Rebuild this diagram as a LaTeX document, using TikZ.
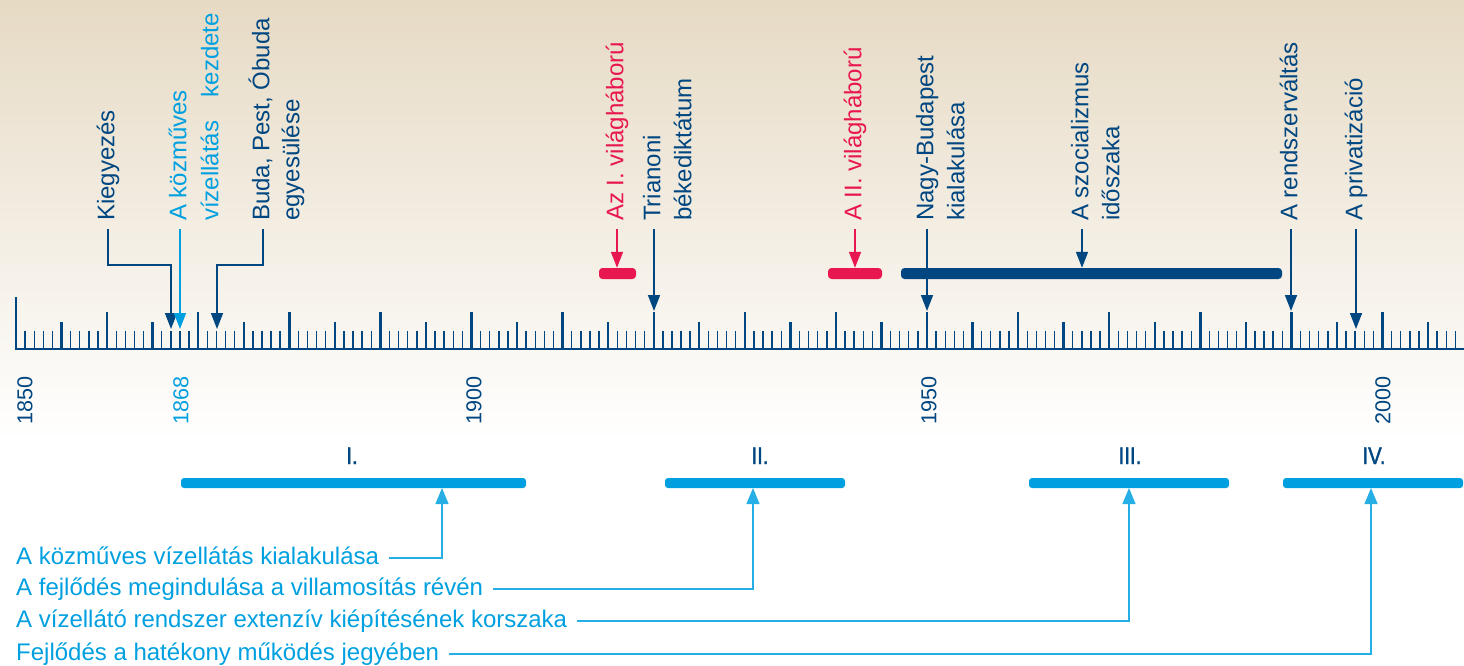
\documentclass[tikz,border=0pt]{standalone}
\usepackage{fontspec}
\setmainfont{Liberation Sans}
\newfontfamily\romfont[FakeStretch=0.85,FakeBold=1.5]{Liberation Sans}
\usetikzlibrary{arrows.meta}
\definecolor{navy}{RGB}{0,70,128}
\definecolor{cyanblue}{RGB}{0,160,224}
\definecolor{warred}{RGB}{232,23,79}
\definecolor{parch}{RGB}{230,218,196}
\tikzset{
  lbl/.style={rotate=90, anchor=mid west, inner xsep=8pt, inner ysep=0pt, font=\fontsize{24}{30}\selectfont},
  yrlbl/.style={rotate=90, anchor=west, inner sep=0pt, text=navy, font=\fontsize{21.6}{26}\selectfont},
  sor/.style={anchor=mid west, inner xsep=10pt, inner ysep=0pt, text=cyanblue, font=\fontsize{24}{30}\selectfont},
  roman/.style={anchor=base, inner sep=0pt, text=navy, font=\romfont\fontsize{24}{28}\selectfont},
  pbar/.style={fill=cyanblue, rounded corners=3pt, minimum height=10pt, inner sep=0pt},
  ebar/.style={rounded corners=3.5pt, minimum height=11pt, inner sep=0pt},
  darr/.style={draw=navy, line width=1.6pt, -{Triangle[length=16pt,width=12pt]}},
  carr/.style={draw=cyanblue, line width=1.6pt, -{Triangle[length=16pt,width=12pt]}},
  rarr/.style={draw=warred, line width=1.6pt, -{Triangle[length=16pt,width=12pt]}},
  larr/.style={draw=cyanblue!85, line width=1.3pt, -{Triangle[length=16pt,width=13pt]}}
}
\begin{document}
\fontsize{24}{30}\selectfont
\begin{tikzpicture}[x=1pt,y=1pt,yscale=-1,xscale=1]
\useasboundingbox (0,0) rectangle (1464,666);
%Shape: background
\shade[top color=parch, bottom color=white] (0,0) rectangle (1464,440);

%Shape: Axis with year ticks
\draw[navy, line width=2.6pt] (15,349) -- (1464,349);
\draw[navy, line width=2.4pt] (16,349) -- (16,297);
\foreach \i in {1,...,158}{
  \pgfmathsetmacro\h{ifthenelse(mod(\i,10)==0,37,ifthenelse(mod(\i,5)==0,27,18))}
  \pgfmathsetmacro\w{ifthenelse(mod(\i,5)==0,2.4,1.4)}
  \draw[navy, line width=\w pt] ({16+9.11*\i},349) -- ++(0,-\h);
}

% Year labels
\node[yrlbl] (y1850) at (25,425) {1850};
\node[yrlbl, text=cyanblue] (y1868) at (181,425) {1868};
\node[yrlbl] (y1900) at (474,425) {1900};
\node[yrlbl] (y1950) at (929,425) {1950};
\node[yrlbl] (y2000) at (1383,425) {2000};

% arrow ends on the axis
\coordinate (t1867) at (171,329);
\coordinate (t1868) at (180,329);
\coordinate (t1872) at (217,329);
\coordinate (t1920) at (654,311);
\coordinate (t1950) at (927,311);
\coordinate (t1990) at (1291,311);
\coordinate (t1997) at (1356,329);

%Shape: war and socialism bars
\node[ebar, fill=warred, minimum width=37pt] (vhbar1) at (617.5,273.5) {};
\node[ebar, fill=warred, minimum width=54pt] (vhbar2) at (855,273.5) {};
\node[ebar, fill=navy, minimum width=381pt] (szocbar) at (1091.5,273.5) {};

% Text Node
\node[lbl, text=navy] (kieg) at (108,229) {Kiegyezés};
\node[lbl, text=cyanblue] (kozmu) at (180,229) {A közműves};
\node[lbl, text=cyanblue] (kozmu2) at (212,229) {vízellátás\hspace{17pt} kezdete};
\node[lbl, text=navy] (buda) at (263,229) {Buda, Pest, Óbuda};
\node[lbl, text=navy] (buda2) at (293,229) {egyesülése};
\node[lbl, text=warred] (vh1) at (617,229) {Az I. világháború};
\node[lbl, text=navy] (trian) at (654,229) {Trianoni};
\node[lbl, text=navy] (trian2) at (685,229) {békediktátum};
\node[lbl, text=warred] (vh2) at (855,229) {A II. világháború};
\node[lbl, text=navy] (nagy) at (927,229) {Nagy-Budapest};
\node[lbl, text=navy] (nagy2) at (958,229) {kialakulása};
\node[lbl, text=navy] (szoc) at (1082,229) {A szocializmus};
\node[lbl, text=navy] (szoc2) at (1113,229) {időszaka};
\node[lbl, text=navy] (rendsz) at (1291,229) {A rendszerváltás};
\node[lbl, text=navy] (priv) at (1356,229) {A privatizáció};

% top arrows
\draw[darr] (kieg.mid west) -- ++(0,36) -| (t1867);
\draw[carr] (kozmu.mid west) -- (t1868);
\draw[darr] (buda.mid west) -- ++(0,36) -| (t1872);
\draw[rarr] (vh1.mid west) -- (vh1.mid west |- vhbar1.north);
\draw[darr] (trian.mid west) -- (t1920);
\draw[rarr] (vh2.mid west) -- (vh2.mid west |- vhbar2.north);
\draw[darr] (nagy.mid west) -- (t1950);
\draw[darr] (szoc.mid west) -- (szoc.mid west |- szocbar.north);
\draw[darr] (rendsz.mid west) -- (t1990);
\draw[darr] (priv.mid west) -- (t1997);

%Shape: period bars
\node[pbar, minimum width=345pt] (per1) at (353.5,483) {};
\node[pbar, minimum width=180pt] (per2) at (755,483) {};
\node[pbar, minimum width=200pt] (per3) at (1129,483) {};
\node[pbar, minimum width=180pt] (per4) at (1373,483) {};
\node[roman] (r1) at (352,464) {I.};
\node[roman] (r2) at (760,464) {II.};
\node[roman] (r3) at (1130,464) {III.};
\node[roman] (r4) at (1374,464) {IV.};

% Text Node
\node[sor] (sor1) at (6,558) {A közműves vízellátás kialakulása};
\node[sor] (sor2) at (6,589) {A fejlődés megindulása a villamosítás révén};
\node[sor] (sor3) at (6,621) {A vízellátó rendszer extenzív kiépítésének korszaka};
\node[sor] (sor4) at (6,654) {Fejlődés a hatékony működés jegyében};

\coordinate (a1) at (442,488);
\coordinate (a2) at (753,488);
\coordinate (a3) at (1129,488);
\coordinate (a4) at (1371,488);
\draw[larr] (sor1.mid east) -| (a1);
\draw[larr] (sor2.mid east) -| (a2);
\draw[larr] (sor3.mid east) -| (a3);
\draw[larr] (sor4.mid east) -| (a4);

\end{tikzpicture}
\end{document}
